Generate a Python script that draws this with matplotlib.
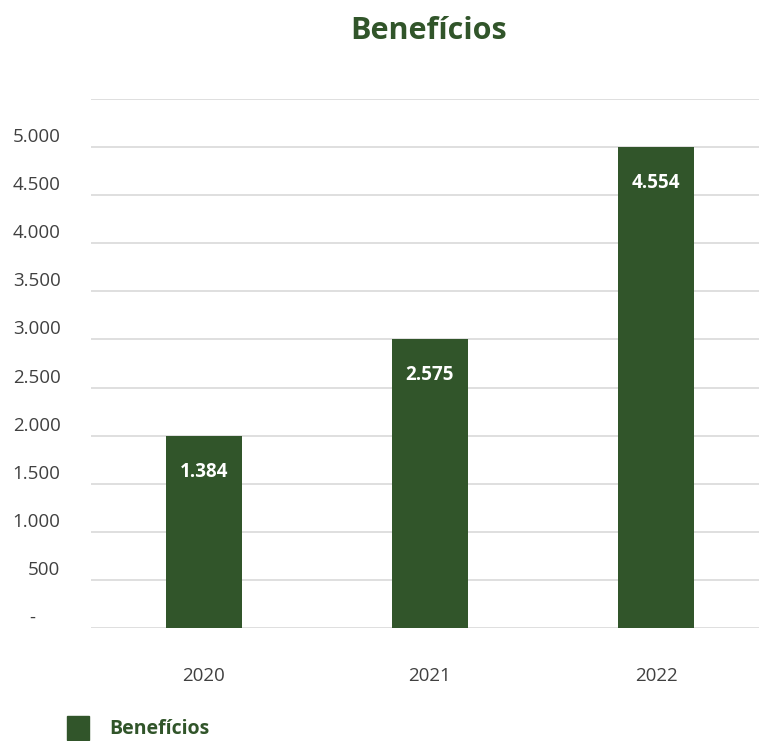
import numpy as np
import matplotlib.pyplot as plt
from matplotlib.patches import Patch
from matplotlib.transforms import ScaledTranslation

plt.rcParams['font.family'] = ['Open Sans', 'DejaVu Sans']

years = ['2020', '2021', '2022']
bar_heights = [2000, 3000, 5000]      # altura desenhada das barras
bar_labels = ['1.384', '2.575', '4.554']  # rótulos mostrados
y_ticks = np.arange(0, 5501, 500)

green = '#31552a'
grey_txt = '#404040'

fig = plt.figure(figsize=(7.59, 7.41), dpi=100)
ax = fig.add_axes([0.1199, 0.1525, 0.8801, 0.7139])

x = np.arange(len(years))
ax.bar(x, bar_heights, width=0.336, color=green, zorder=3)

for xi, h, lab in zip(x, bar_heights, bar_labels):
    ax.annotate(lab, (xi, h), xytext=(0, -36), textcoords='offset pixels',
                ha='center', va='center', color='white', fontsize=13.5,
                fontweight='bold', zorder=4)

ax.set_xlim(-0.5, 2.456)
ax.set_ylim(0, 5500)

def fmt(v):
    if v == 0:
        return '-'
    if v > 5000:
        return ''
    return f'{int(v):,}'.replace(',', '.')

ax.set_yticks(y_ticks)
ax.set_yticklabels([fmt(v) for v in y_ticks])
ax.grid(axis='y', color='#d9d9d9', linewidth=1.2, zorder=0)
ax.tick_params(axis='y', length=0, pad=22, labelsize=13.5, labelcolor=grey_txt)
ax.set_xticks(x)
ax.set_xticklabels(years)
ax.tick_params(axis='x', length=0, pad=28, labelsize=13.5, labelcolor=grey_txt)

# rótulos do eixo y ficam um pouco acima das linhas
for i, lbl in enumerate(ax.get_yticklabels()):
    dx = -0.25 if y_ticks[i] == 0 else 0
    lbl.set_transform(lbl.get_transform() + ScaledTranslation(dx, 0.12, fig.dpi_scale_trans))

for s in ax.spines.values():
    s.set_visible(False)

fig.text(0.564, 0.958, 'Benefícios', ha='center', va='center',
         fontsize=22, fontweight='bold', color=green)

fig.legend(handles=[Patch(color=green)], labels=['Benefícios'],
           loc='center left', bbox_to_anchor=(0.075, 0.018), frameon=False,
           handlelength=1.15, handleheight=1.5, handletextpad=1.05,
           borderpad=0, prop={'weight': 'bold', 'size': 14}, labelcolor=green)

fig.savefig('out.png', dpi=100)
